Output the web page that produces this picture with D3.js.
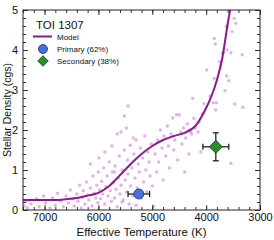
<!DOCTYPE html>
<html>
<head>
<meta charset="utf-8">
<script src="https://cdn.jsdelivr.net/npm/d3@7"></script>
<style>
  body { margin: 0; background: #fff; }
  text { font-family: "Liberation Sans", Arial, sans-serif; }
</style>
</head>
<body>
<div id="chart"></div>
<script>
// model curve (Teff, density)
var modelTeff = [7400, 7200, 7000, 6800, 6600, 6400, 6200, 6000, 5800, 5600, 5400, 5200, 5000, 4800, 4600, 4400, 4200, 4000, 3900, 3800, 3700, 3600, 3500];
var modelRho = [0.25, 0.25, 0.25, 0.25, 0.27, 0.30, 0.36, 0.43, 0.60, 0.87, 1.15, 1.40, 1.60, 1.75, 1.85, 1.93, 2.10, 2.55, 2.85, 3.25, 3.80, 4.65, 5.40];

// background sample of stars
var starTeff = [7380, 7350, 7320, 7250, 7150, 7100, 7020, 6980, 6900, 6850, 6800, 6760, 6700, 6650, 6600, 6560, 6520, 6480, 6450, 6400, 6380, 6350, 6320, 6300, 6280, 6250, 6220, 6200, 6180, 6150, 6120, 6100, 6080, 6050, 6030, 6010, 6000,
  5980, 5960, 5940, 5920, 5900, 5880, 5860, 5840, 5820, 5800, 5780, 5760, 5740, 5720, 5700, 5690, 5670, 5650, 5630, 5610, 5600, 5580, 5560, 5540, 5520, 5500, 5480, 5460, 5450, 5430, 5410, 5400, 5380, 5360, 5340, 5320, 5300, 5280, 5260, 5240, 5220, 5200, 5180, 5160, 5140, 5120, 5100, 5080, 5060, 5040, 5020, 5000,
  5580, 5450, 5520, 5480, 5350, 5650, 5750, 5880, 5990, 6150, 5700, 5560, 5300,
  4980, 4950, 4920, 4900, 4880, 4850, 4820, 4800, 4780, 4750, 4720, 4700, 4680, 4650, 4620, 4600, 4580, 4550, 4530, 4500, 4470, 4450, 4420, 4400, 4380, 4350, 4320, 4300, 4270, 4250, 4230, 4200, 4150, 4130, 4100, 4070, 4040, 4290,
  3540, 3480, 3450, 3610, 3620, 3520, 3850, 3830, 3670, 3610, 3540, 3330, 3700, 3750, 3730, 3990, 3580, 3620, 3850, 3650, 3930, 3810, 3470, 3320, 3870, 3820];
var starRho = [0.10, 0.22, 0.05, 0.15, 0.28, 0.08, 0.35, 0.18, 0.05, 0.30, 0.12, 0.42, 0.22, 0.08, 0.35, 0.18, 0.50, 0.28, 0.10, 0.40, 0.22, 0.62, 0.05, 0.32, 0.48, 0.15, 0.70, 0.38, 0.25, 0.55, 0.10, 0.85, 0.42, 0.30, 0.62, 0.18, 0.95,
  0.50, 0.28, 0.72, 0.40, 1.05, 0.15, 0.58, 0.85, 0.35, 1.20, 0.48, 0.22, 0.95, 0.68, 0.30, 1.10, 0.52, 0.08, 0.80, 1.35, 0.40, 0.62, 1.00, 0.25, 1.50, 0.75, 0.45, 1.25, 0.90, 0.15, 1.62, 0.60, 1.05, 0.35, 1.40, 0.80, 1.75, 0.55, 1.15, 0.95, 1.55, 0.30, 1.30, 0.70, 1.85, 1.00, 0.45, 1.45, 1.20, 0.85, 1.65, 0.60, 1.95,
  2.60, 2.35, 2.05, 1.80, 1.90, 1.60, 1.45, 1.30, 1.15, 0.95, 0.20, 0.12, 0.10,
  1.40, 0.95, 1.75, 1.20, 2.00, 1.55, 0.75, 1.85, 1.35, 2.10, 1.60, 1.05, 1.90, 2.30, 1.50, 1.75, 2.38, 1.25, 2.38, 1.95, 1.65, 2.05, 0.95, 1.80, 2.15, 1.40, 2.00, 1.90, 2.79, 2.29, 2.05, 1.95, 2.20, 1.45, 2.40, 2.66, 1.95, 1.17,
  4.79, 4.67, 4.60, 4.58, 4.46, 4.29, 4.15, 3.94, 4.00, 3.93, 3.88, 3.92, 3.71, 3.60, 3.50, 3.23, 3.35, 3.29, 2.98, 2.85, 2.68, 2.65, 2.57, 2.68, 2.50, 2.52];

// TOI 1307 solutions
var solNames = ["Primary (62%)", "Secondary (38%)"];
var solTeff = [5250, 3820];
var solTeffErr = [200, 240];
var solRho = [0.40, 1.58];
var solRhoErr = [0.05, 0.35];

var xMajor = [7000, 6000, 5000, 4000, 3000];
var yMajor = [0, 1, 2, 3, 4, 5];

var svgWidth = 274, svgHeight = 240;
var margin = { top: 10, right: 14, bottom: 30, left: 23 };
var width = svgWidth - margin.left - margin.right;
var height = svgHeight - margin.top - margin.bottom;

var svg = d3.select("#chart").append("svg")
  .attr("width", svgWidth)
  .attr("height", svgHeight);

var chartGroup = svg.append("g")
  .attr("transform", `translate(${margin.left}, ${margin.top})`);

var x = d3.scaleLinear().domain([7400, 3000]).range([0, width]);
var y = d3.scaleLinear().domain([0, 5]).range([height, 0]);

svg.append("clipPath").attr("id", "clip")
  .append("rect").attr("width", width).attr("height", height);

var plot = chartGroup.append("g").attr("clip-path", "url(#clip)");

// stars
var stars = starTeff.map((t, i) => ({ t: t, r: starRho[i] }));
plot.selectAll("circle.star")
  .data(stars)
  .enter()
  .append("circle")
  .attr("class", "star")
  .attr("cx", d => x(d.t))
  .attr("cy", d => y(d.r))
  .attr("r", 1.7)
  .attr("fill", "#d196d8")
  .attr("opacity", 0.7);

// model line
var model = modelTeff.map((t, i) => ({ t: t, r: modelRho[i] }));
var line = d3.line().x(d => x(d.t)).y(d => y(d.r)).curve(d3.curveMonotoneX);
plot.append("path")
  .datum(model)
  .attr("d", line)
  .attr("fill", "none")
  .attr("stroke", "#8a1a8e")
  .attr("stroke-width", 2);

// axes, ticks pointing in on all sides
var minorX = d3.range(7400, 2999, -200);
var minorY = d3.range(0, 5.01, 0.2);

chartGroup.append("g")
  .attr("transform", `translate(0, ${height})`)
  .call(d3.axisBottom(x).tickValues(minorX).tickSize(-3).tickFormat(""));
chartGroup.append("g")
  .attr("transform", `translate(0, ${height})`)
  .call(d3.axisBottom(x).tickValues(xMajor).tickSize(-5).tickPadding(3).tickFormat(d3.format("d")));
chartGroup.append("g")
  .call(d3.axisTop(x).tickValues(minorX).tickSize(-3).tickFormat(""));
chartGroup.append("g")
  .call(d3.axisTop(x).tickValues(xMajor).tickSize(-5).tickFormat(""));

chartGroup.append("g")
  .call(d3.axisLeft(y).tickValues(minorY).tickSize(-3).tickFormat(""));
chartGroup.append("g")
  .call(d3.axisLeft(y).tickValues(yMajor).tickSize(-5).tickPadding(5).tickFormat(d3.format("d")));
chartGroup.append("g")
  .attr("transform", `translate(${width}, 0)`)
  .call(d3.axisRight(y).tickValues(minorY).tickSize(-3).tickFormat(""));
chartGroup.append("g")
  .attr("transform", `translate(${width}, 0)`)
  .call(d3.axisRight(y).tickValues(yMajor).tickSize(-5).tickFormat(""));

chartGroup.selectAll(".domain").remove();
chartGroup.selectAll(".tick line").attr("stroke", "#333");
chartGroup.selectAll(".tick text").attr("font-size", 11).attr("fill", "#111")
  .attr("font-family", "Liberation Sans, Arial, sans-serif");

chartGroup.append("rect")
  .attr("width", width).attr("height", height)
  .attr("fill", "none").attr("stroke", "#222").attr("stroke-width", 1);

// error bars
var sols = solTeff.map((t, i) => ({ name: solNames[i], t: t, te: solTeffErr[i], r: solRho[i], re: solRhoErr[i] }));
var cap = 3;
sols.forEach(function(d) {
  var g = chartGroup.append("g").attr("stroke", "#111").attr("stroke-width", 1.2);
  g.append("line").attr("x1", x(d.t - d.te)).attr("x2", x(d.t + d.te)).attr("y1", y(d.r)).attr("y2", y(d.r));
  g.append("line").attr("x1", x(d.t - d.te)).attr("x2", x(d.t - d.te)).attr("y1", y(d.r) - cap).attr("y2", y(d.r) + cap);
  g.append("line").attr("x1", x(d.t + d.te)).attr("x2", x(d.t + d.te)).attr("y1", y(d.r) - cap).attr("y2", y(d.r) + cap);
  g.append("line").attr("x1", x(d.t)).attr("x2", x(d.t)).attr("y1", y(d.r - d.re)).attr("y2", y(d.r + d.re));
  g.append("line").attr("x1", x(d.t) - cap).attr("x2", x(d.t) + cap).attr("y1", y(d.r - d.re)).attr("y2", y(d.r - d.re));
  g.append("line").attr("x1", x(d.t) - cap).attr("x2", x(d.t) + cap).attr("y1", y(d.r + d.re)).attr("y2", y(d.r + d.re));
});

chartGroup.append("circle")
  .attr("cx", x(sols[0].t)).attr("cy", y(sols[0].r)).attr("r", 5)
  .attr("fill", "#4470d8").attr("stroke", "#1b2f6e").attr("stroke-width", 0.8);

var diamond = d3.symbol().type(d3.symbolDiamond2).size(110);
chartGroup.append("path")
  .attr("d", diamond())
  .attr("transform", `translate(${x(sols[1].t)}, ${y(sols[1].r)})`)
  .attr("fill", "#2e8b2e").attr("stroke", "#123d12").attr("stroke-width", 0.8);

// legend
var legend = svg.append("g");
legend.append("text").attr("x", 36).attr("y", 29).attr("font-size", 11.5).attr("fill", "#111").text("TOI 1307");
legend.append("line").attr("x1", 33).attr("x2", 52).attr("y1", 36.5).attr("y2", 36.5)
  .attr("stroke", "#8a1a8e").attr("stroke-width", 2);
legend.append("text").attr("x", 57).attr("y", 39.5).attr("font-size", 8).attr("fill", "#111").text("Model");
legend.append("circle").attr("cx", 43).attr("cy", 49).attr("r", 4.5)
  .attr("fill", "#4470d8").attr("stroke", "#1b2f6e").attr("stroke-width", 0.8);
legend.append("text").attr("x", 57).attr("y", 52).attr("font-size", 8).attr("fill", "#111").text(solNames[0]);
legend.append("path").attr("d", d3.symbol().type(d3.symbolDiamond2).size(70)())
  .attr("transform", "translate(43, 61)")
  .attr("fill", "#2e8b2e").attr("stroke", "#123d12").attr("stroke-width", 0.8);
legend.append("text").attr("x", 57).attr("y", 64).attr("font-size", 8).attr("fill", "#111").text(solNames[1]);

// axis titles
svg.append("text")
  .attr("x", margin.left + width / 2).attr("y", 236)
  .attr("text-anchor", "middle").attr("font-size", 11.5).attr("fill", "#111")
  .text("Effective Temperature (K)");

svg.append("text")
  .attr("transform", "rotate(-90)")
  .attr("x", -(margin.top + height / 2)).attr("y", 11)
  .attr("text-anchor", "middle").attr("font-size", 10.5).attr("fill", "#111")
  .text("Stellar Density (cgs)");
</script>
</body>
</html>
